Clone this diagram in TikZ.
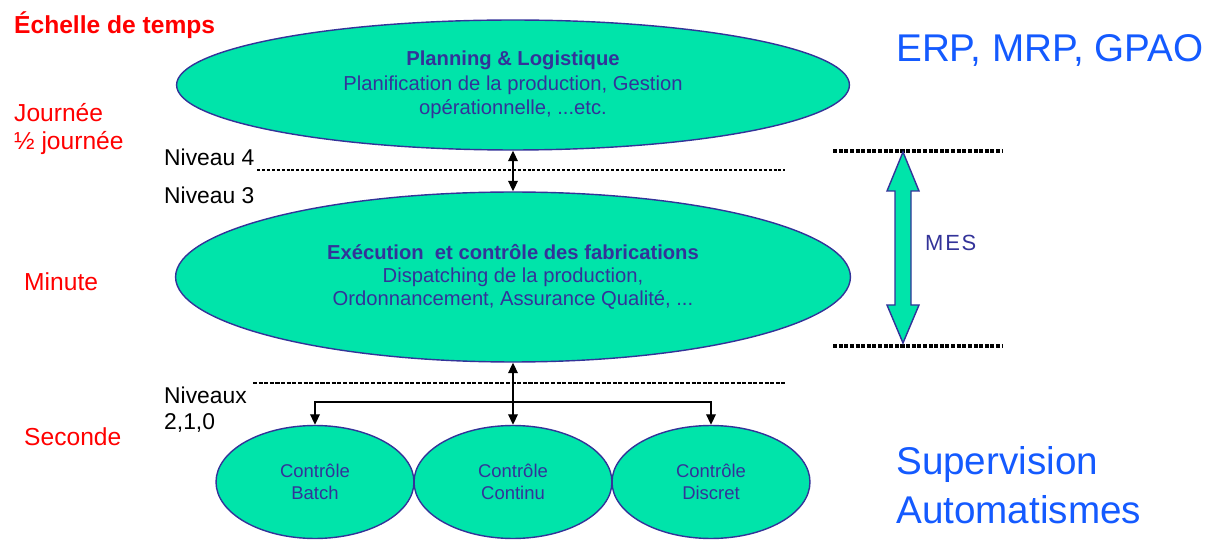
\documentclass[tikz,border=0pt]{standalone}
\usepackage{fontspec}
\setmainfont{Liberation Sans}
\usetikzlibrary{shapes.geometric,arrows.meta}
\definecolor{vert}{RGB}{0,228,170}
\definecolor{bleu}{RGB}{51,51,153}
\definecolor{bleuvif}{RGB}{20,90,255}
\definecolor{rouge}{RGB}{255,0,0}

\begin{document}
\begin{tikzpicture}[x=0.02cm,y=-0.02cm,>={Triangle[length=6pt,width=5.5pt]},
  bulle/.style={draw=bleu,fill=vert,ellipse,inner sep=0pt,align=center,text=bleu,line width=0.8pt},
  petite/.style={bulle,minimum width=3.96cm,minimum height=2.26cm,font=\fontsize{10.5}{12.5}\selectfont},
  echelle/.style={anchor=west,text=rouge,align=left,font=\fontsize{14}{16}\selectfont},
  niveau/.style={anchor=west,align=left,font=\fontsize{13}{15}\selectfont},
  titre/.style={anchor=west,text=bleuvif,align=left,font=\fontsize{22}{28}\selectfont}]
\useasboundingbox (0,0) rectangle (1210,540);
% echelle de temps
\node[echelle,font=\fontsize{14}{16}\selectfont\bfseries] (echelle) at (8,25) {Échelle de temps};
\node[echelle] (jour) at (8,129) {Journée\\½ journée};
\node[echelle] (minute) at (18,282) {Minute};
\node[echelle] (seconde) at (18,437) {Seconde};
% niveaux
\node[niveau] (niv4) at (158,157) {Niveau 4};
\node[niveau] (niv3) at (158,195) {Niveau 3};
\node[niveau] (niv210) at (158,410) {Niveaux\\2,1,0};
% bulles
\node[bulle,minimum width=13.46cm,minimum height=2.6cm,font=\fontsize{11.5}{14}\selectfont] (PL) at (513,85)
  {\textbf{Planning \& Logistique}\\Planification de la production, Gestion\\opérationnelle, ...etc.};
\node[bulle,minimum width=13.5cm,minimum height=3.4cm,font=\fontsize{11.5}{13}\selectfont] (EX) at (513,277)
  {\textbf{Exécution\ \ et contrôle des fabrications}\\Dispatching de la production,\\Ordonnancement, Assurance Qualité, ...};
\node[petite] (CB) at (315,482) {Contrôle\\Batch};
\node[petite] (CC) at (513,482) {Contrôle\\Continu};
\node[petite] (CD) at (711,482) {Contrôle\\Discret};
% separations
\draw[dashed,line width=0.6pt,dash pattern=on 1.7pt off 1.1pt] (257,170) -- (785,170);
\draw[line width=1.3pt,dash pattern=on 2.3pt off 0.9pt] (253,383) -- (785,383);
\draw[line width=1.8pt,dash pattern=on 2.3pt off 0.9pt] (833,151) -- (1003,151);
\draw[line width=1.8pt,dash pattern=on 2.3pt off 0.9pt] (833,346) -- (1003,346);
% liaisons
\coordinate (J) at (513,402);
\draw[<->,line width=0.8pt] (PL) -- (EX);
\draw[<->,line width=0.8pt] (EX) -- (CC);
\draw[->,line width=0.8pt] (J) -| (CB);
\draw[->,line width=0.8pt] (J) -| (CD);
% MES
\draw[draw=bleu,fill=vert,line width=0.8pt] (903,152) -- (919,191) -- (911,191) -- (911,305) -- (919,305)
  -- (903,343) -- (887,305) -- (895,305) -- (895,191) -- (887,191) -- cycle;
\node[anchor=west,text=bleu,font=\fontsize{12.5}{14}\selectfont] (mes) at (919,243) {M\kern1pt E\kern1pt S};
% titres
\node[titre] (erp) at (890,50) {ERP, MRP, GPAO};
\node[titre] (sup) at (890,485) {Supervision\\Automatismes};
\end{tikzpicture}
\end{document}
